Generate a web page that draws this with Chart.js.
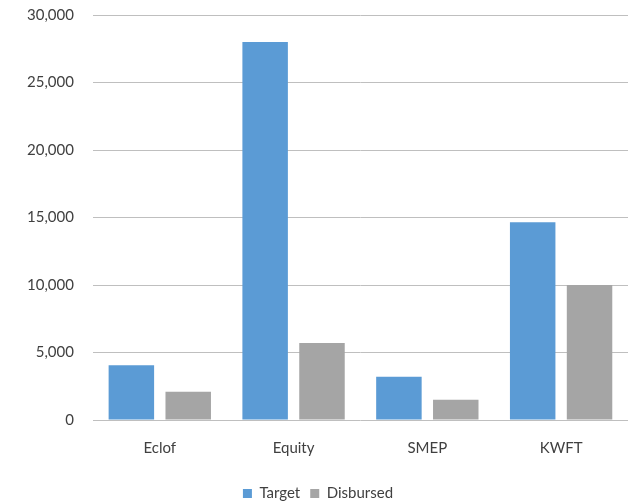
<!DOCTYPE html>
<html>
<head>
<meta charset="utf-8">
<script src="https://cdn.jsdelivr.net/npm/chart.js@4/dist/chart.umd.min.js"></script>
<style>
  html, body { margin: 0; padding: 0; background: #fff; }
  #wrap { width: 628px; height: 503px; overflow: hidden; position: relative; }
  #chart { position: absolute; left: 0; top: -13px; }
</style>
</head>
<body>
<div id="wrap"><canvas id="chart" width="628" height="520"></canvas></div>
<script>
// Chart data
const categories = ['Eclof', 'Equity', 'SMEP', 'KWFT'];
const targetValues = [4050, 28000, 3200, 14650];
const disbursedValues = [2100, 5700, 1500, 10000];
const yTicks = [0, 5000, 10000, 15000, 20000, 25000, 30000];

const textColor = '#404040';
const fontFamily = 'Lato, "Liberation Sans", sans-serif';

const ctx = document.getElementById('chart').getContext('2d');
new Chart(ctx, {
    type: 'bar',
    data: {
        labels: categories,
        datasets: [{
            label: 'Target',
            data: targetValues,
            backgroundColor: '#5B9BD5',
            categoryPercentage: 0.85,
            barPercentage: 0.8
        }, {
            label: 'Disbursed',
            data: disbursedValues,
            backgroundColor: '#A5A5A5',
            categoryPercentage: 0.85,
            barPercentage: 0.8
        }]
    },
    options: {
        responsive: false,
        animation: false,
        layout: { padding: { top: -6, left: 8, right: 0, bottom: -4 } },
        plugins: {
            legend: {
                position: 'bottom',
                labels: {
                    color: textColor,
                    font: { family: fontFamily, size: 15 },
                    boxWidth: 9,
                    boxHeight: 9,
                    padding: 10
                }
            },
            tooltip: { enabled: false }
        },
        scales: {
            x: {
                grid: { display: false },
                border: { display: false },
                afterFit: axis => { axis.height += 8; },
                ticks: {
                    color: textColor,
                    font: { family: fontFamily, size: 15 },
                    padding: 11
                }
            },
            y: {
                min: yTicks[0],
                max: yTicks[yTicks.length - 1],
                afterBuildTicks: axis => {
                    axis.ticks = yTicks.map(v => ({ value: v }));
                },
                grid: { color: '#BFBFBF', lineWidth: 1, drawTicks: false },
                border: { display: false },
                ticks: {
                    color: textColor,
                    font: { family: fontFamily, size: 15 },
                    padding: 19,
                    callback: v => v.toLocaleString('en-US')
                }
            }
        }
    }
});
</script>
</body>
</html>
